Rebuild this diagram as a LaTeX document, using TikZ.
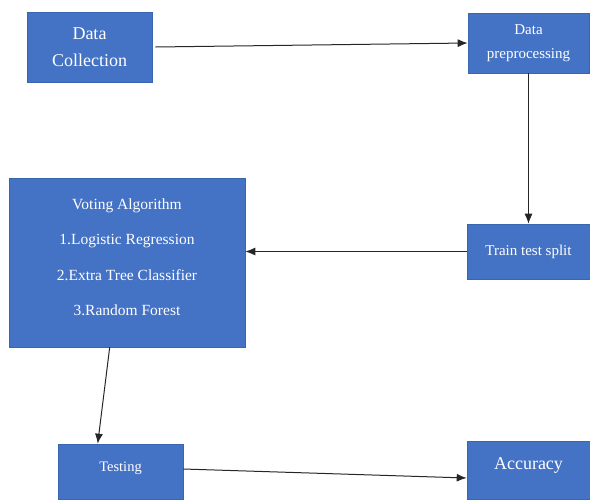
\documentclass[tikz,border=0pt]{standalone}
\usepackage{fontspec}
\setmainfont{Liberation Serif}
\newfontfamily\tms{Liberation Serif}
\usetikzlibrary{arrows.meta,calc}
\definecolor{boxblue}{HTML}{4472C4}
\definecolor{boxedge}{HTML}{3A66B0}
\tikzset{
  blk/.style={rectangle, fill=boxblue, draw=boxedge, line width=0.6pt, inner sep=0pt, text=white, align=center},
  conn/.style={draw=black!85, line width=1pt, -{Latex[length=10pt,width=8pt]}},
  lbl/.style={text=white, inner sep=0pt, align=center}
}
\begin{document}
\begin{tikzpicture}[x=1pt,y=-1pt]
\useasboundingbox (0,0) rectangle (590,499);
\node[blk, minimum width=125pt, minimum height=70pt, font=\tms\fontsize{18}{27}\selectfont] (dc) at (89.5,47) {Data\\Collection};
\node[blk, minimum width=121pt, minimum height=60pt, font=\tms\fontsize{15}{24}\selectfont] (dp) at (528.5,43) {Data\\preprocessing};
\node[blk, minimum width=123pt, minimum height=55pt, font=\tms\fontsize{15}{18}\selectfont] (tts) at (528.5,251.5) {Train test split};
\node[blk, minimum width=236pt, minimum height=169pt] (vote) at (127,262.5) {};
\node[lbl, font=\tms\fontsize{15.5}{35.5}\selectfont] (votetext) at (127,257) {Voting Algorithm\\1.Logistic Regression\\2.Extra Tree Classifier\\3.Random Forest};
\node[blk, minimum width=125pt, minimum height=55pt] (test) at (120.5,471.5) {};
\node[lbl, font=\tms\fontsize{14.5}{18}\selectfont] (testtext) at (120.5,468) {Testing};
\node[blk, minimum width=123pt, minimum height=58pt] (acc) at (528.5,470) {};
\node[lbl, font=\tms\fontsize{18}{22}\selectfont] (acctext) at (528.5,465) {Accuracy};
\draw[conn] ([xshift=3pt]dc.east) -- (dp.west);
\draw[conn] (dp.south) -- (tts.north);
\draw[conn] (tts.west) -- (vote.east |- tts.west);
\draw[conn] ([xshift=101pt]vote.south west) -- ([xshift=40pt]test.north west);
\draw[conn] ([yshift=2.5pt]test.east) -- ([yshift=-8pt]acc.west);
\end{tikzpicture}
\end{document}
